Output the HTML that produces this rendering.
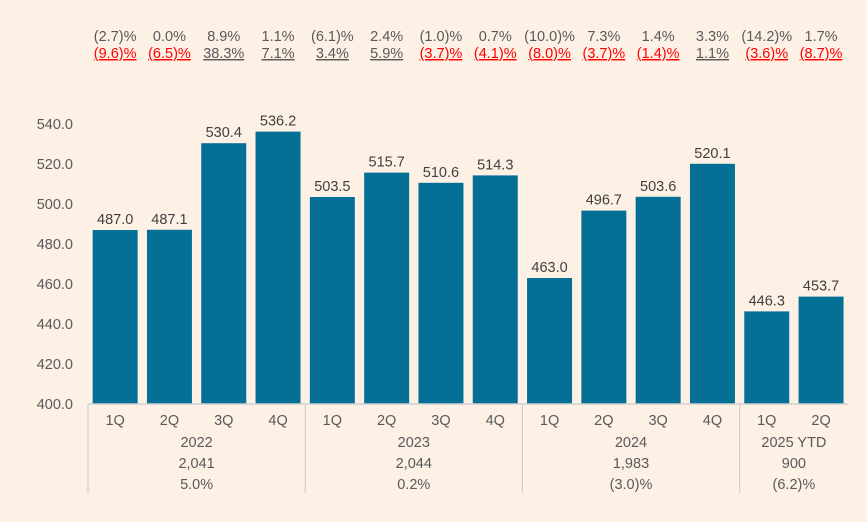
<!DOCTYPE html>
<html><head><meta charset="utf-8"><style>
body{margin:0;background:#fdf1e6;}
svg{display:block;font-family:"Liberation Sans",sans-serif;}
</style></head><body>
<svg id="c" width="867" height="522"></svg>
<script>
const quarters=["1Q","2Q","3Q","4Q","1Q","2Q","3Q","4Q","1Q","2Q","3Q","4Q","1Q","2Q"];
const values=[487.0,487.1,530.4,536.2,503.5,515.7,510.6,514.3,463.0,496.7,503.6,520.1,446.3,453.7];
const qoqLabels=["(2.7)%","0.0%","8.9%","1.1%","(6.1)%","2.4%","(1.0)%","0.7%","(10.0)%","7.3%","1.4%","3.3%","(14.2)%","1.7%"];
const yoyLabels=["(9.6)%","(6.5)%","38.3%","7.1%","3.4%","5.9%","(3.7)%","(4.1)%","(8.0)%","(3.7)%","(1.4)%","1.1%","(3.6)%","(8.7)%"];
const years=["2022","2023","2024","2025 YTD"];
const yearTotals=["2,041","2,044","1,983","900"];
const yearGrowth=["5.0%","0.2%","(3.0)%","(6.2)%"];
const yTicks=[400,420,440,460,480,500,520,540];
const svg=document.getElementById('c');
const NS="http://www.w3.org/2000/svg";
const x0=88,band=54.3,bw=45,yBase=404;
const y=v=>yBase-(v-400)*2;
const bx=i=>x0+i*band+(band-bw)/2;
function mk(t,a,txt){const e=document.createElementNS(NS,t);for(const k in a)e.setAttribute(k,a[k]);if(txt!==undefined)e.textContent=txt;svg.appendChild(e);return e;}
yTicks.forEach(t=>{const e=mk('text',{x:73,y:y(t)+5,'text-anchor':'end','font-size':14.5,fill:'#595959'},t.toFixed(1));

});
values.forEach((v,i)=>{
const r=mk('rect',{x:bx(i),y:y(v),width:bw,height:yBase-y(v),fill:'#066f96'});


const cx=bx(i)+bw/2;
const l=mk('text',{x:cx,y:y(v)-6,'text-anchor':'middle','font-size':14.5,fill:'#404040'},v.toFixed(1));


const q=mk('text',{x:cx,y:425,'text-anchor':'middle','font-size':14.5,fill:'#595959'},quarters[i]);


const a=mk('text',{x:cx,y:41,'text-anchor':'middle','font-size':14.5,fill:'#595959'},qoqLabels[i]);


const neg=yoyLabels[i].startsWith('(');
const b=mk('text',{x:cx,y:58,'text-anchor':'middle','font-size':14.5,fill:neg?'#ff0000':'#595959','text-decoration':'underline'},yoyLabels[i]);


});
const ax=mk('line',{x1:x0,x2:x0+14*band,y1:yBase,y2:yBase,stroke:'#d0d0d0','stroke-width':1.5});


[0,4,8,12].forEach((s,g)=>{
const lx=x0+s*band;
const ln=mk('line',{x1:lx,x2:lx,y1:yBase,y2:493,stroke:'#d0d0d0','stroke-width':1.2});


const n=g<3?4:2;const cx=lx+n*band/2;
[[years[g],447],[yearTotals[g],468],[yearGrowth[g],489]].forEach(([t,yy])=>{
const e=mk('text',{x:cx,y:yy,'text-anchor':'middle','font-size':14.5,fill:'#595959'},t);

});
});
</script>
</body></html>
